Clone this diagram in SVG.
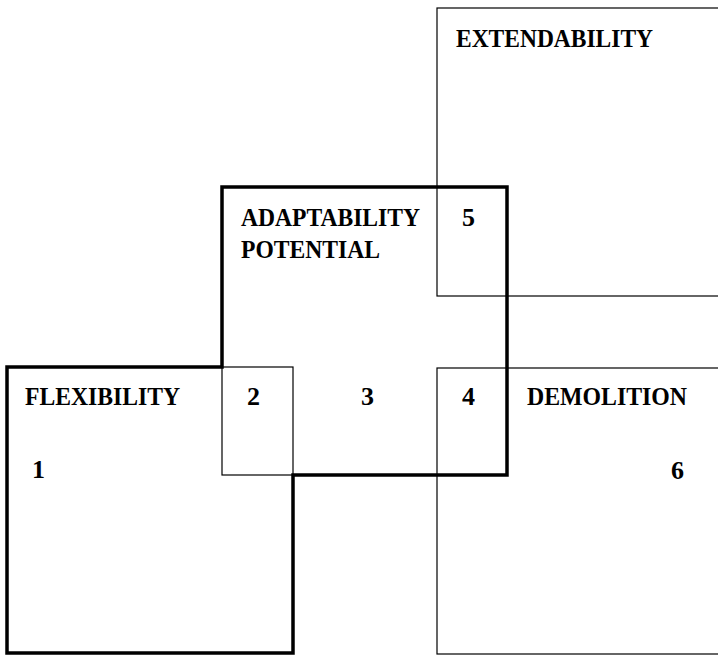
<svg xmlns="http://www.w3.org/2000/svg" width="718" height="656" viewBox="0 0 718 656">
<style>
.thin{fill:none;stroke:#000;stroke-width:1.2}
.thick{fill:none;stroke:#000;stroke-width:3.5;stroke-linejoin:miter}
text{font-family:"Liberation Serif","Times New Roman",serif;font-weight:bold;font-size:25px;fill:#000}
.num{font-size:26px}
</style>
<rect width="718" height="656" fill="#fff"/>
<g id="extendability">
<rect class="thin" x="437" y="8" width="290" height="288"/>
<text x="456" y="47" textLength="197" lengthAdjust="spacingAndGlyphs">EXTENDABILITY</text>
</g>
<g id="demolition">
<rect class="thin" x="437" y="368" width="290" height="286"/>
<text x="527" y="405" textLength="160" lengthAdjust="spacingAndGlyphs">DEMOLITION</text>
<text class="num" x="671" y="479">6</text>
</g>
<g id="overlap2">
<rect class="thin" x="222" y="367" width="71" height="108"/>
</g>
<g id="adaptability">
<polygon class="thick" points="7,367 222,367 222,187 507,187 507,475 293,475 293,653 7,653"/>
<text x="241" y="226" textLength="179" lengthAdjust="spacingAndGlyphs">ADAPTABILITY</text>
<text x="241" y="258" textLength="139" lengthAdjust="spacingAndGlyphs">POTENTIAL</text>
</g>
<g id="flexibility">
<text x="25" y="405" textLength="155" lengthAdjust="spacingAndGlyphs">FLEXIBILITY</text>
<text class="num" x="32" y="478">1</text>
</g>
<g id="labels">
<text class="num" x="247" y="405">2</text>
<text class="num" x="361" y="405">3</text>
<text class="num" x="462" y="405">4</text>
<text class="num" x="462" y="226">5</text>
</g>
</svg>
